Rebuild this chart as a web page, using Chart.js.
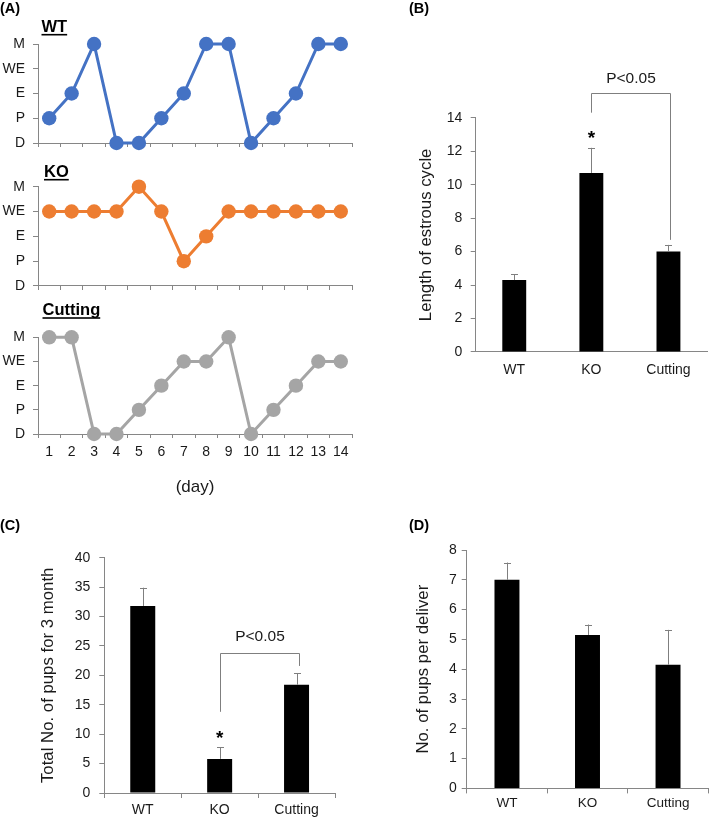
<!DOCTYPE html>
<html><head><meta charset="utf-8">
<script src="https://cdn.jsdelivr.net/npm/chart.js@4.4.1/dist/chart.umd.min.js"></script>
<style>
html,body{margin:0;padding:0;background:#fff;}
#wrap{position:relative;width:709px;height:818px;overflow:hidden;background:#fff;}
#wrap canvas{position:absolute;left:0;top:0;}
</style></head><body>
<div id="wrap">
<canvas id="cWT" width="709" height="818"></canvas>
<canvas id="cKO" width="709" height="818"></canvas>
<canvas id="cCut" width="709" height="818"></canvas>
<canvas id="cB" width="709" height="818"></canvas>
<canvas id="cC" width="709" height="818"></canvas>
<canvas id="cD" width="709" height="818"></canvas>
</div>
<script>
// ---------- data ----------
const days = ['1','2','3','4','5','6','7','8','9','10','11','12','13','14'];
const stageLabels = ['D','P','E','WE','M'];
const wtStages      = [1,2,4,0,0,1,2,4,4,0,1,2,4,4];
const koStages      = [3,3,3,3,4,3,1,2,3,3,3,3,3,3];
const cuttingStages = [4,4,0,0,1,2,3,3,4,0,1,2,3,3];

const groups = ['WT','KO','Cutting'];
const cycleLength      = [4.3, 10.7, 6.0];
const cycleLengthErr   = [0.35, 1.5, 0.4];
const totalPups        = [31.8, 5.8, 18.4];
const totalPupsErr     = [3.1, 2.0, 2.0];
const pupsPerDelivery    = [7.0, 5.15, 4.15];
const pupsPerDeliveryErr = [0.58, 0.35, 1.17];

// ---------- style ----------
const W = 709, H = 818;
const F = "'Liberation Sans', Arial, sans-serif";
const TXT = '#1a1a1a';
const AX = '#868686';
const ERR = '#7f7f7f';

// ---------- plugins ----------
const textsPlugin = {
  id: 'texts',
  afterDraw(chart, args, opts) {
    const ctx = chart.ctx;
    (opts.items || []).forEach(t => {
      ctx.save();
      ctx.font = (t.bold ? 'bold ' : '') + t.size + 'px ' + F;
      ctx.fillStyle = '#000';
      ctx.textAlign = 'left';
      ctx.textBaseline = 'alphabetic';
      ctx.fillText(t.text, t.x, t.y);
      if (t.underline) {
        const w = ctx.measureText(t.text).width;
        ctx.fillRect(t.x, t.y + 2.2, w, 1.6);
      }
      ctx.restore();
    });
  }
};

const errPlugin = {
  id: 'errbars',
  afterDatasetsDraw(chart, args, opts) {
    if (!opts.errors) return;
    const ctx = chart.ctx;
    const ys = chart.scales.y;
    const meta = chart.getDatasetMeta(0);
    const vals = chart.data.datasets[0].data;
    ctx.save();
    ctx.strokeStyle = ERR;
    ctx.lineWidth = 1;
    meta.data.forEach((el, i) => {
      const x = Math.round(el.x) + 0.5;
      const yTop = ys.getPixelForValue(vals[i] + opts.errors[i]);
      ctx.beginPath();
      ctx.moveTo(x, el.y);
      ctx.lineTo(x, yTop);
      ctx.moveTo(x - 3.5, Math.round(yTop) + 0.5);
      ctx.lineTo(x + 3.5, Math.round(yTop) + 0.5);
      ctx.stroke();
    });
    ctx.restore();
  }
};

const sigPlugin = {
  id: 'sig',
  afterDatasetsDraw(chart, args, o) {
    if (o.from === undefined) return;
    const ctx = chart.ctx;
    const xs = chart.scales.x, ys = chart.scales.y;
    const x1 = Math.round(xs.getPixelForValue(o.from)) + 0.5;
    const x2 = Math.round(xs.getPixelForValue(o.to)) + 2.5;
    const yA = ys.getPixelForValue(o.y1);
    const yT = Math.round(ys.getPixelForValue(o.top)) + 0.5;
    const yB = ys.getPixelForValue(o.y2);
    ctx.save();
    ctx.strokeStyle = ERR;
    ctx.lineWidth = 1;
    ctx.beginPath();
    ctx.moveTo(x1, yA); ctx.lineTo(x1, yT); ctx.lineTo(x2, yT); ctx.lineTo(x2, yB);
    ctx.stroke();
    ctx.fillStyle = TXT;
    ctx.font = '15.5px ' + F;
    ctx.textAlign = 'center';
    ctx.textBaseline = 'middle';
    ctx.fillText(o.text, (x1 + x2) / 2, ys.getPixelForValue(o.textY));
    ctx.font = 'bold 19px ' + F;
    ctx.textBaseline = 'alphabetic';
    ctx.fillStyle = '#000';
    ctx.fillText('*', xs.getPixelForValue(o.starAt), ys.getPixelForValue(o.starY) + 0.57 * 19);
    ctx.restore();
  }
};

// ---------- stage (line) charts ----------
function stageChart(id, values, color, area, showX, texts) {
  const yW = 38;
  const xH = showX ? 67.2 : 10;
  return new Chart(document.getElementById(id), {
    type: 'line',
    data: { labels: days, datasets: [{
      data: values, borderColor: color, backgroundColor: color,
      pointBackgroundColor: color, pointBorderColor: color, pointBorderWidth: 0,
      pointRadius: 7.2, pointHoverRadius: 7.2, borderWidth: 3, tension: 0, clip: false
    }]},
    options: {
      responsive: false, animation: false, events: [],
      layout: { padding: { left: area.l - yW, top: area.t, right: W - area.r, bottom: H - area.b - xH } },
      plugins: { legend: { display: false }, tooltip: { enabled: false }, texts: { items: texts } },
      scales: {
        x: {
          type: 'category', offset: true,
          grid: { offset: true, drawOnChartArea: false, drawTicks: true, tickLength: 4, color: AX },
          border: { color: AX, width: 1 },
          ticks: { display: showX, color: TXT, font: { family: F, size: 14 }, padding: 6, maxRotation: 0, autoSkip: false },
          title: { display: showX, text: '(day)', color: TXT, font: { family: F, size: 17 }, padding: { top: 4, bottom: 4 } },
          afterFit(s) { s.height = xH; }
        },
        y: {
          min: 0, max: 4,
          ticks: { stepSize: 1, callback: v => stageLabels[v], color: TXT, font: { family: F, size: 14 }, padding: 8 },
          grid: { drawOnChartArea: false, tickLength: 5, color: AX },
          border: { color: AX, width: 1 },
          afterFit(s) { s.width = yW; }
        }
      }
    },
    plugins: [textsPlugin]
  });
}

stageChart('cWT', wtStages, '#4472C4', { l: 38, t: 44, r: 352, b: 143 }, false,
  [{ text: '(A)', x: 0, y: 13, size: 14.5, bold: true },
   { text: 'WT', x: 41.5, y: 31.7, size: 16.5, bold: true, underline: true }]);
stageChart('cKO', koStages, '#ED7D31', { l: 38, t: 186.7, r: 352, b: 286 }, false,
  [{ text: 'KO', x: 44, y: 176.7, size: 16.5, bold: true, underline: true }]);
stageChart('cCut', cuttingStages, '#A5A5A5', { l: 38, t: 337.3, r: 352, b: 434 }, true,
  [{ text: 'Cutting', x: 42.5, y: 315, size: 16.5, bold: true, underline: true }]);

// ---------- bar charts ----------
function barChart(id, values, errs, c) {
  const titleOffset = 16.8 * 1.2 / 2 + 4;
  const scaleLeft = c.titleX - titleOffset;
  const yW = c.area.l - scaleLeft;
  return new Chart(document.getElementById(id), {
    type: 'bar',
    data: { labels: groups, datasets: [{
      data: values, backgroundColor: '#000', borderWidth: 0,
      barPercentage: c.barPct, categoryPercentage: 1
    }]},
    options: {
      responsive: false, animation: false, events: [],
      layout: { padding: { left: scaleLeft, top: c.area.t, right: W - c.area.r, bottom: H - c.area.b - c.xH } },
      plugins: { legend: { display: false }, tooltip: { enabled: false },
        errbars: { errors: errs }, sig: c.sig || {}, texts: { items: c.texts } },
      scales: {
        x: {
          grid: { offset: true, drawOnChartArea: false, drawTicks: c.xTicks, tickLength: 5, color: AX },
          border: { color: AX, width: 1 },
          ticks: { color: TXT, font: { family: F, size: c.xFont }, padding: c.xPad, maxRotation: 0 },
          afterFit(s) { s.height = c.xH; }
        },
        y: {
          min: 0, max: c.yMax,
          ticks: { stepSize: c.step, color: TXT, font: { family: F, size: 14 }, padding: c.yPad },
          grid: { drawOnChartArea: false, tickLength: 5, color: AX },
          border: { color: AX, width: 1 },
          title: { display: true, text: c.yTitle, color: TXT, font: { family: F, size: 16.8 }, padding: { top: 4, bottom: 4 } },
          afterFit(s) { s.width = yW; }
        }
      }
    },
    plugins: [errPlugin, sigPlugin, textsPlugin]
  });
}

barChart('cB', cycleLength, cycleLengthErr, {
  area: { l: 475.7, t: 117.7, r: 707, b: 352 }, titleX: 426.5, xH: 40,
  yMax: 14, step: 2, yTitle: 'Length of estrous cycle', barPct: 0.31,
  xTicks: false, xPad: 10, xFont: 14, yPad: 8.4,
  sig: { from: 1, to: 2, y1: 14.3, top: 15.45, y2: 6.7, text: 'P<0.05', textY: 16.3, starAt: 1, starY: 13.1 },
  texts: [{ text: '(B)', x: 409, y: 13.3, size: 14.5, bold: true }]
});

barChart('cC', totalPups, totalPupsErr, {
  area: { l: 104.3, t: 557.7, r: 335, b: 793 }, titleX: 48.3, xH: 25,
  yMax: 40, step: 5, yTitle: 'Total No. of pups for 3 month', barPct: 0.325,
  xTicks: true, xPad: 4, xFont: 14, yPad: 9,
  sig: { from: 1, to: 2, y1: 13.8, top: 23.85, y2: 21.6, text: 'P<0.05', textY: 26.6, starAt: 1, starY: 10.2 },
  texts: [{ text: '(C)', x: 0, y: 529.5, size: 14.5, bold: true }]
});

barChart('cD', pupsPerDelivery, pupsPerDeliveryErr, {
  area: { l: 466.7, t: 550, r: 708.3, b: 788.4 }, titleX: 423, xH: 29,
  yMax: 8, step: 1, yTitle: 'No. of pups per deliver', barPct: 0.31,
  xTicks: true, xPad: 1.5, xFont: 13.5, yPad: 5,
  texts: [{ text: '(D)', x: 409, y: 529.5, size: 14.5, bold: true }]
});
</script>
</body></html>
